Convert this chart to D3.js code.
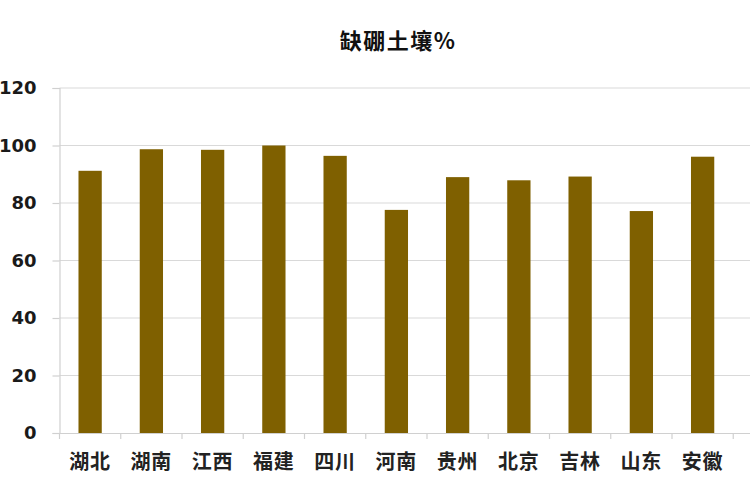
<!DOCTYPE html>
<html><head><meta charset="utf-8">
<script src="https://cdn.jsdelivr.net/npm/d3@7"></script>
<style>body{margin:0;background:#fff;} svg{display:block;}</style>
</head><body>
<svg id="c" width="750" height="500"></svg>
<script>
const categories = ["湖北","湖南","江西","福建","四川","河南","贵州","北京","吉林","山东","安徽","全国"];
const values = [91.2, 98.7, 98.5, 100, 96.4, 77.6, 89.0, 87.9, 89.2, 77.2, 96.1, 84.5];
const barColors = ["#7F6000","#7F6000","#7F6000","#7F6000","#7F6000","#7F6000","#7F6000","#7F6000","#7F6000","#7F6000","#7F6000","#E8A8A0"];
const yTicks = [0, 20, 40, 60, 80, 100, 120];
const title = "缺硼土壤%";

(function(){
const svg = d3.select("#c");
const mLeft = 59.5, mTop = 88, mBottom = 433, step = 61.25;
const x = d3.scaleBand().domain(categories).range([mLeft, mLeft + step*categories.length]).paddingInner(0.62).paddingOuter(0.31);
const y = d3.scaleLinear().domain([0, 120]).range([mBottom, mTop]);

svg.append("text").attr("x", 398).attr("y", 49).attr("text-anchor","middle")
  .attr("font-family","'Noto Sans CJK SC', sans-serif").attr("font-weight","bold")
  .attr("font-size", 22).attr("letter-spacing", 1.5).attr("fill","#111").text(title);

// gridlines
svg.append("g").selectAll("line").data(yTicks.filter(d=>d>0)).join("line")
  .attr("x1", mLeft).attr("x2", 750).attr("y1", d=>y(d)).attr("y2", d=>y(d))
  .attr("stroke","#d9d9d9").attr("stroke-width",1.2);

// y axis
const ya = svg.append("g").attr("transform",`translate(${mLeft},0)`)
  .call(d3.axisLeft(y).tickValues(yTicks).tickSize(7).tickPadding(16));
ya.select(".domain").attr("stroke","#d0d0d0").attr("stroke-width",1.2);
ya.selectAll(".tick line").attr("stroke","#d0d0d0").attr("stroke-width",1.2);
ya.selectAll(".tick text").attr("font-family","'DejaVu Sans', sans-serif").attr("font-weight","bold")
  .attr("font-size",18).attr("fill","#1a1a1a");

// bars
svg.append("g").selectAll("rect").data(categories).join("rect")
  .attr("x", d=>x(d)).attr("width", x.bandwidth())
  .attr("y", (d,i)=>y(values[i])).attr("height", (d,i)=>mBottom - y(values[i]))
  .attr("fill", (d,i)=>barColors[i]);

// x axis
const xa = svg.append("g").attr("transform",`translate(0,${mBottom})`)
  .call(d3.axisBottom(x).tickSize(0).tickPadding(22));
xa.select(".domain").attr("stroke","#d0d0d0").attr("stroke-width",1.2);
xa.selectAll(".tick text").attr("font-family","'Noto Sans CJK SC', sans-serif").attr("font-weight","bold")
  .attr("font-size",20).attr("letter-spacing",1).attr("fill","#222");
// the last category falls off the right edge of the picture: its label is not shown
xa.selectAll(".tick").filter(d=>x(d) + x.bandwidth()/2 > 745).select("text").remove();
// category boundary ticks
svg.append("g").selectAll("line").data(d3.range(categories.length+1)).join("line")
  .attr("x1", i=>mLeft + i*step).attr("x2", i=>mLeft + i*step)
  .attr("y1", mBottom).attr("y2", mBottom+6)
  .attr("stroke","#d0d0d0").attr("stroke-width",1.2);
})();
</script>
</body></html>
